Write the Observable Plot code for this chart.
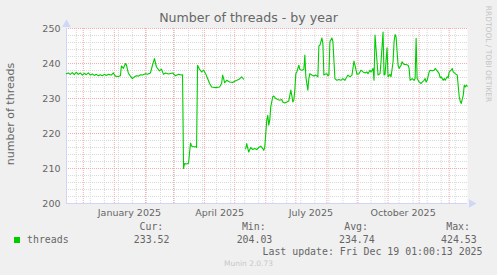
<!DOCTYPE html>
<html>
<head>
<meta charset="utf-8">
<script src="https://cdn.jsdelivr.net/npm/d3@7"></script>
<script src="https://cdn.jsdelivr.net/npm/@observablehq/plot@0.6"></script>
<style>
  html, body { margin: 0; padding: 0; background: #F0F0F0; }
  #wrap { position: relative; width: 497px; height: 275px; overflow: hidden; font-family: "DejaVu Sans", sans-serif; color: #666; }
  #wrap svg { position: absolute; left: 0; top: 0; }
  .t { position: absolute; white-space: nowrap; }
  .mono { font-family: "DejaVu Sans Mono", monospace; font-size: 9.9px; line-height: 12px; height: 12px; }
</style>
</head>
<body>
<div id="wrap"></div>
<script>
// ---- data ----
const dates = [
  "2024-11-14","2024-11-16","2024-11-18","2024-11-20","2024-11-22","2024-11-24","2024-11-26","2024-11-28","2024-11-30",
  "2024-12-02","2024-12-04","2024-12-06","2024-12-08","2024-12-10","2024-12-12","2024-12-14","2024-12-16","2024-12-18",
  "2024-12-20","2024-12-22","2024-12-24","2024-12-26","2024-12-29","2024-12-31",
  "2025-01-02","2025-01-05","2025-01-07","2025-01-08","2025-01-10","2025-01-12","2025-01-13","2025-01-15","2025-01-17",
  "2025-01-19","2025-01-21","2025-01-23","2025-01-25","2025-01-27","2025-01-29",
  "2025-02-01","2025-02-03","2025-02-06","2025-02-08","2025-02-10","2025-02-12","2025-02-15","2025-02-17","2025-02-19",
  "2025-02-21","2025-02-24","2025-02-28",
  "2025-03-03","2025-03-06","2025-03-09","2025-03-10","2025-03-11","2025-03-12","2025-03-14","2025-03-16","2025-03-17",
  "2025-03-18","2025-03-19","2025-03-21","2025-03-23","2025-03-24","2025-03-25","2025-03-27","2025-03-29","2025-03-31",
  "2025-04-02","2025-04-04","2025-04-06","2025-04-08","2025-04-12","2025-04-16","2025-04-18","2025-04-19","2025-04-20",
  "2025-04-21","2025-04-23","2025-04-26","2025-04-29",
  "2025-05-02","2025-05-05","2025-05-08","2025-05-10","2025-05-11","2025-05-12","2025-05-13","2025-05-15","2025-05-17",
  "2025-05-19","2025-05-21","2025-05-23","2025-05-25","2025-05-27","2025-05-29","2025-05-30","2025-05-31",
  "2025-06-02","2025-06-03","2025-06-04","2025-06-05","2025-06-06","2025-06-08","2025-06-09","2025-06-11","2025-06-13",
  "2025-06-15","2025-06-17","2025-06-18","2025-06-20","2025-06-22","2025-06-24","2025-06-26","2025-06-27","2025-06-28",
  "2025-06-29","2025-06-30",
  "2025-07-01","2025-07-02","2025-07-04","2025-07-05","2025-07-07","2025-07-09","2025-07-10","2025-07-11","2025-07-13",
  "2025-07-14","2025-07-15","2025-07-17","2025-07-19","2025-07-21","2025-07-23","2025-07-24","2025-07-25","2025-07-26",
  "2025-07-27","2025-07-28","2025-07-29","2025-07-30",
  "2025-08-01","2025-08-02","2025-08-03","2025-08-04","2025-08-06","2025-08-07","2025-08-09","2025-08-11","2025-08-13",
  "2025-08-15","2025-08-17","2025-08-19","2025-08-20","2025-08-22","2025-08-24","2025-08-26","2025-08-28","2025-08-29",
  "2025-08-31",
  "2025-09-02","2025-09-04","2025-09-06","2025-09-08","2025-09-10","2025-09-11","2025-09-13","2025-09-14","2025-09-16",
  "2025-09-17","2025-09-18","2025-09-20","2025-09-21","2025-09-23","2025-09-24","2025-09-26","2025-09-27","2025-09-28",
  "2025-09-30",
  "2025-10-01","2025-10-03","2025-10-04","2025-10-06","2025-10-07","2025-10-08","2025-10-09","2025-10-11","2025-10-12",
  "2025-10-14","2025-10-15","2025-10-17","2025-10-19","2025-10-21","2025-10-22","2025-10-23","2025-10-25","2025-10-27",
  "2025-10-28","2025-10-29","2025-10-30",
  "2025-11-01","2025-11-03","2025-11-04","2025-11-06","2025-11-07","2025-11-08","2025-11-09","2025-11-11","2025-11-12",
  "2025-11-14","2025-11-16","2025-11-17","2025-11-19","2025-11-21","2025-11-22","2025-11-23","2025-11-25","2025-11-26",
  "2025-11-27","2025-11-29","2025-11-30",
  "2025-12-01","2025-12-03","2025-12-04","2025-12-05","2025-12-07","2025-12-08","2025-12-09","2025-12-11","2025-12-12",
  "2025-12-13","2025-12-15","2025-12-16","2025-12-17","2025-12-18","2025-12-19"
];
const threads = [
  237.1,237.3,236.9,237.4,236.8,237.5,236.9,237.3,236.7,
  237.2,236.8,237.3,236.7,237.0,236.6,236.9,236.5,236.8,
  236.5,236.9,236.6,236.9,236.7,237.3,
  236.4,236.3,236.5,239.3,238.6,240.0,239.6,237.2,236.4,
  235.7,236.2,236.5,236.4,236.8,236.7,
  237.1,236.9,237.3,239.5,241.4,239.0,237.9,238.4,236.9,
  237.3,237.0,237.3,
  236.5,236.9,236.7,236.8,210.0,211.4,211.3,211.5,214.5,
  217.3,216.4,216.2,216.2,216.0,239.5,238.3,237.6,238.1,
  237.1,235.7,234.3,233.3,233.1,233.3,234.3,236.7,235.7,
  234.5,235.2,234.7,234.6,
  235.1,235.4,236.2,235.5,null,215.6,217.1,214.7,216.0,
  215.4,215.7,215.4,216.0,216.4,215.7,215.2,216.0,
  223.8,225.2,222.4,223.8,227.6,230.5,230.7,230.0,229.7,
  229.5,229.7,229.0,228.7,229.0,229.3,232.4,230.9,229.0,
  229.5,232.4,
  237.1,237.6,239.5,238.3,238.1,238.3,242.4,236.2,232.4,
  235.7,237.1,236.7,236.4,236.7,236.2,245.0,245.2,246.2,
  247.3,245.7,236.7,236.9,
  237.1,236.5,236.7,246.2,247.3,246.2,235.7,235.2,235.4,
  235.2,235.7,235.2,235.7,236.7,236.2,236.7,240.7,239.5,
  236.9,
  237.1,238.1,237.6,237.3,237.6,237.1,238.1,237.6,238.6,
  235.2,248.1,240.5,236.7,237.1,240.5,249.0,236.7,236.9,
  244.5,
  236.2,236.9,236.2,240.5,246.2,248.3,247.6,239.5,238.6,
  239.5,240.5,239.7,239.7,239.5,238.6,235.2,235.7,235.2,
  235.7,247.2,235.7,
  234.7,234.3,234.7,235.2,235.7,234.7,235.2,237.6,238.1,
  237.9,238.1,238.6,237.9,237.1,235.9,236.2,235.2,235.7,
  235.2,236.2,235.9,
  237.6,238.1,238.6,237.6,237.1,236.9,236.7,230.5,229.2,
  228.6,230.9,233.8,233.3,233.8,233.5
];
const yTicks = [200, 210, 220, 230, 240, 250];
const yMinor = d3.range(202, 250, 2).filter(v => v % 10 !== 0);
const xTickDates = ["2025-01-16", "2025-04-16", "2025-07-16", "2025-10-16"];
const xTickLabels = ["January 2025", "April 2025", "July 2025", "October 2025"];
const legendName = "threads";
const statLabels = ["Cur:", "Min:", "Avg:", "Max:"];
const statValues = ["233.52", "204.03", "234.74", "424.53"];
const titleText = "Number of threads - by year";
const yLabelText = "number of threads";
const lastUpdate = "Last update: Fri Dec 19 01:00:13 2025";
const versionText = "Munin 2.0.73";
const sideText = "RRDTOOL / TOBI OETIKER";

// ---- build ----
const data = dates.map((d, i) => ({date: new Date(d + "T00:00Z"), value: threads[i]}));
const xStart = new Date("2024-11-14T06:00Z");
const xEnd = new Date("2025-12-19T06:00Z");
const monthLines = d3.utcMonth.range(xStart, xEnd);
const weekLines = d3.utcDay.range(new Date("2024-11-24T00:00Z"), xEnd, 14);
const tickMap = new Map(xTickDates.map((d, i) => [+new Date(d + "T00:00Z"), xTickLabels[i]]));

const AXIS = "#CFD6F8", GRID = "#d9d9d9", MGRID = "#f3adad", LINE = "#00CC00";

const chart = Plot.plot({
  width: 497,
  height: 220,
  marginLeft: 66,
  marginRight: 30,
  marginTop: 28,
  marginBottom: 17,
  style: {background: "transparent", fontFamily: "DejaVu Sans", color: "#666"},
  x: {type: "utc", domain: [xStart, xEnd]},
  y: {domain: [200, 250]},
  marks: [
    Plot.frame({fill: "white", stroke: null}),
    Plot.gridY(yMinor, {stroke: GRID, strokeOpacity: 1, strokeDasharray: "1,1"}),
    Plot.gridX(weekLines, {stroke: GRID, strokeOpacity: 1, strokeDasharray: "1,1"}),
    Plot.gridX(monthLines, {stroke: MGRID, strokeOpacity: 1, strokeDasharray: "1,1"}),
    Plot.gridY(yTicks.filter(v => v > 200), {stroke: MGRID, strokeOpacity: 1, strokeDasharray: "1,1"}),
    Plot.ruleY([200], {stroke: AXIS}),
    Plot.ruleX([xStart], {stroke: AXIS}),
    Plot.dot([0], {x: () => xEnd, y: () => 200, symbol: "triangle", rotate: 90, r: 3.2, fill: AXIS, stroke: null, dx: 4}),
    Plot.dot([0], {x: () => xStart, y: () => 250, symbol: "triangle", r: 3.2, fill: AXIS, stroke: null, dy: -4}),
    Plot.line(data, {x: "date", y: "value", stroke: LINE, strokeWidth: 1.1}),
    Plot.axisY({ticks: yTicks, tickSize: 0, tickPadding: 6, label: null, fontSize: 9.5, fill: "#666"}),
    Plot.axisX({ticks: [...tickMap.keys()].map(t => new Date(t)), tickFormat: d => tickMap.get(+d), tickSize: 0, tickPadding: 6, label: null, fontSize: 9.5, fill: "#666"})
  ]
});

const wrap = document.getElementById("wrap");
wrap.appendChild(chart);

function addText(text, css, cls = "t") {
  const el = document.createElement("div");
  el.className = cls;
  el.textContent = text;
  Object.assign(el.style, css);
  wrap.appendChild(el);
  return el;
}
// title
addText(titleText, {left: "0px", width: "497px", textAlign: "center", top: "11.4px", fontSize: "12.6px", lineHeight: "14px", color: "#666"});
// y label
addText(yLabelText, {left: (11 - 100) + "px", top: (114.3 - 7) + "px", width: "200px", height: "14px", lineHeight: "14px", textAlign: "center", fontSize: "11px", transform: "rotate(-90deg)", color: "#666"});
// side text
addText(sideText, {left: (487.5 - 60) + "px", top: (53.5 - 5) + "px", width: "120px", height: "10px", lineHeight: "10px", textAlign: "center", fontSize: "7.5px", transform: "rotate(90deg)", color: "#c4c4c4"});
// legend
const sq = document.createElement("div");
Object.assign(sq.style, {position: "absolute", left: "14px", top: "237px", width: "6px", height: "6px", background: LINE});
wrap.appendChild(sq);
addText(legendName, {left: "27px", top: (239.7 - 6) + "px"}, "t mono");
const headRight = [163.3, 265.7, 368, 470];
const valRight = [169.5, 272.3, 374.7, 476.7];
statLabels.forEach((s, i) => addText(s, {right: (497 - headRight[i]) + "px", top: (227.3 - 6) + "px"}, "t mono"));
statValues.forEach((s, i) => addText(s, {right: (497 - valRight[i]) + "px", top: (239.7 - 6) + "px"}, "t mono"));
addText(lastUpdate, {right: (497 - 482.5) + "px", top: (251.7 - 6) + "px"}, "t mono");
addText(versionText, {left: "0px", width: "497px", textAlign: "center", top: (263.7 - 5) + "px", lineHeight: "10px", fontSize: "7.5px", color: "#c8c8c8"});
</script>
</body>
</html>
